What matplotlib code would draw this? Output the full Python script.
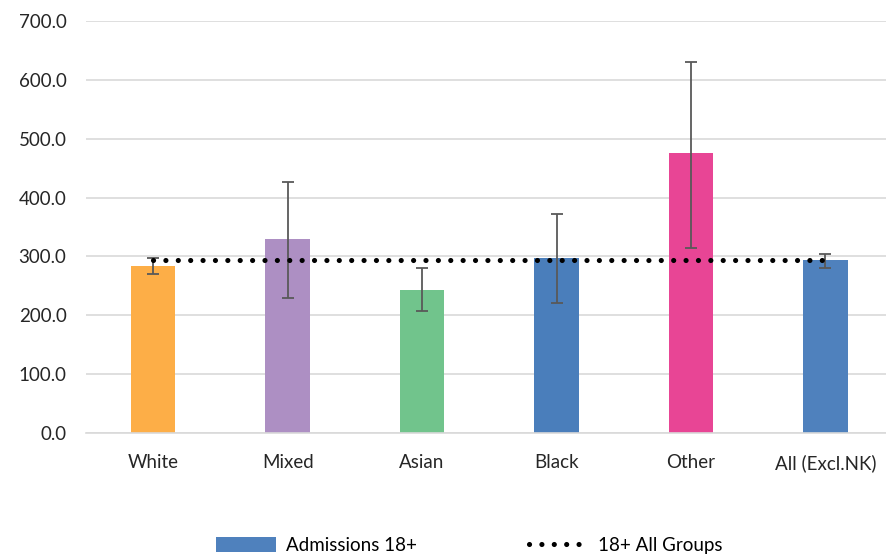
import matplotlib
matplotlib.use("Agg")
import matplotlib.pyplot as plt
from matplotlib.patches import Patch
from matplotlib.lines import Line2D

categories = ["White", "Mixed", "Asian", "Black", "Other", "All (Excl.NK)"]
admissions = [284.0, 329.0, 243.5, 298.0, 476.0, 294.5]
err_low = [270.0, 229.0, 208.0, 221.0, 314.0, 280.0]
err_high = [297.0, 427.0, 280.0, 372.0, 631.0, 303.5]
all_groups = 294.0
bar_colors = ["#FDAE47", "#AD8FC3", "#71C48C", "#4A7EBB", "#E84595", "#4F81BD"]

plt.rcParams["font.family"] = ["Lato", "DejaVu Sans"]

fig = plt.figure(figsize=(8.86, 5.57), dpi=100)
ax = fig.add_axes([0.097, 0.2226, 0.903, 0.7397])

x = list(range(len(categories)))
yerr = [[v - lo for v, lo in zip(admissions, err_low)],
        [hi - v for v, hi in zip(admissions, err_high)]]
ax.bar(x, admissions, width=0.33, color=bar_colors, zorder=2)
ax.errorbar(x, admissions, yerr=yerr, fmt="none", ecolor="#595959",
            elinewidth=1.3, capsize=4, capthick=1.3, zorder=3)
ax.plot([x[0], x[-1]], [all_groups, all_groups], color="black",
        linewidth=3.7, linestyle=(0, (0.01, 2.4)), dash_capstyle="round",
        zorder=4)

ax.set_xlim(-0.5, 5.45)
ax.set_ylim(0, 700)
ax.set_yticks(range(0, 701, 100))
ax.set_yticklabels([f"{v:.1f}" for v in range(0, 701, 100)])
ax.set_xticks(x)
ax.set_xticklabels(categories)
ax.grid(axis="y", color="#D9D9D9", linewidth=1.2, zorder=0)
ax.set_axisbelow(True)
for s in ["top", "right", "left"]:
    ax.spines[s].set_visible(False)
ax.spines["bottom"].set_color("#D9D9D9")
ax.spines["bottom"].set_linewidth(1.2)
ax.tick_params(axis="both", length=0, labelsize=13.5, colors="#262626")
ax.tick_params(axis="x", pad=15)
ax.tick_params(axis="y", pad=14)

handles = [
    Patch(facecolor="#4F81BD", label="Admissions 18+"),
    Line2D([0], [0], color="black", linewidth=3.7,
           linestyle=(0, (0.01, 2.4)), dash_capstyle="round",
           label="18+ All Groups"),
]
fig.legend(handles=handles, loc="center", bbox_to_anchor=(0.53, 0.02),
           ncol=2, frameon=False, fontsize=13.5, handlelength=3.2,
           handleheight=0.85, columnspacing=6, handletextpad=0.5)

fig.savefig("out.png", dpi=100)
